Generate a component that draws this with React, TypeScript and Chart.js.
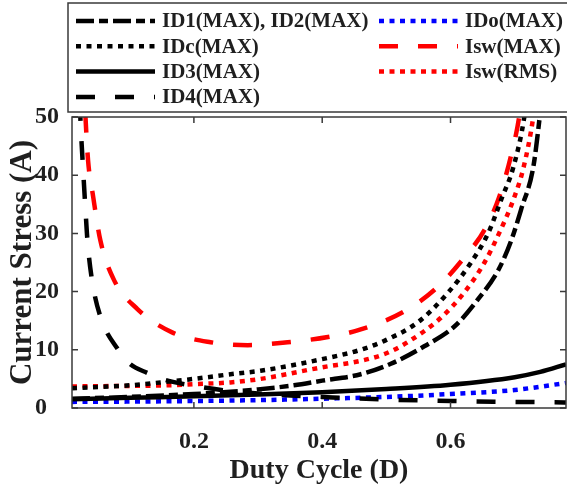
import React, { useEffect, useRef } from "react";
import { Chart, registerables } from "chart.js";

Chart.register(...registerables);

// ---- tick values ----
const xTicks = [0.2, 0.4, 0.6];
const yTicks = [0, 10, 20, 30, 40, 50];

// ---- series data (duty cycle D, current A) ----
const dID1 = [0.01, 0.1, 0.2, 0.257, 0.3, 0.356, 0.4, 0.46, 0.507, 0.559, 0.606, 0.643, 0.675, 0.695, 0.71, 0.729, 0.739, 0.75];
const vID1 = [1.6, 1.9, 2.4, 2.8, 3.2, 3.9, 4.7, 5.8, 7.6, 10.6, 14, 18.7, 23.8, 28.9, 34.1, 41.4, 50, 62];

const dIDc = [0.01, 0.1, 0.148, 0.2, 0.257, 0.304, 0.4, 0.46, 0.5, 0.55, 0.596, 0.632, 0.659, 0.679, 0.698, 0.715, 0.726];
const vIDc = [3.4, 3.9, 4.4, 5.0, 5.8, 6.4, 8.4, 10, 11.7, 14.8, 19.8, 25, 30.1, 35.8, 41.4, 50, 60];

const dID3 = [0.01, 0.1, 0.2, 0.3, 0.4, 0.5, 0.6, 0.7, 0.74, 0.78];
const vID3 = [1.5, 1.75, 2.0, 2.3, 2.7, 3.25, 4.0, 5.3, 6.2, 7.5];

const dID4 = [0.018, 0.023, 0.028, 0.031, 0.034, 0.041, 0.054, 0.082, 0.1, 0.128, 0.15, 0.2, 0.25, 0.3, 0.35, 0.4, 0.45, 0.5, 0.6, 0.7, 0.78];
const vID4 = [66, 50, 39.7, 34.1, 28.9, 22.1, 15.8, 10.0, 7.6, 6.0, 5.0, 3.8, 3.0, 2.5, 2.15, 1.9, 1.65, 1.45, 1.2, 1.05, 0.95];

const dIDo = [0.01, 0.1, 0.2, 0.3, 0.4, 0.5, 0.6, 0.7, 0.78];
const vIDo = [1.05, 1.1, 1.2, 1.35, 1.6, 1.9, 2.4, 3.1, 4.3];

const dSwMax = [0.025, 0.031, 0.035, 0.043, 0.054, 0.075, 0.112, 0.166, 0.226, 0.284, 0.346, 0.409, 0.46, 0.528, 0.581, 0.621, 0.653, 0.676, 0.694, 0.707, 0.716];
const vSwMax = [64, 50, 42.6, 36.3, 28.9, 22.1, 17, 13, 11.3, 10.8, 11.3, 12.2, 13.5, 16.6, 20.9, 25.8, 30.6, 36.3, 43.2, 50, 58];

const dSwRms = [0.01, 0.1, 0.16, 0.2, 0.257, 0.304, 0.4, 0.46, 0.5, 0.533, 0.585, 0.621, 0.653, 0.676, 0.698, 0.714, 0.729, 0.74];
const vSwRms = [3.7, 3.8, 3.9, 4.1, 4.4, 5.0, 7.0, 8.1, 9.4, 11.3, 15.5, 19.8, 25, 30.1, 35.8, 41.4, 50, 60];

const FONT = "'Liberation Serif', 'Times New Roman', serif";
const TEXT = "#1f1f1f";

type Series = {
  label: string;
  d: number[];
  v: number[];
  color: string;
  dash: number[];
  col: number;
  row: number;
};

const series: Series[] = [
  { label: "ID1(MAX), ID2(MAX)", d: dID1, v: vID1, color: "#000000", dash: [18, 5, 9, 5], col: 0, row: 0 },
  { label: "IDc(MAX)", d: dIDc, v: vIDc, color: "#000000", dash: [5, 5.5], col: 0, row: 1 },
  { label: "ID3(MAX)", d: dID3, v: vID3, color: "#000000", dash: [], col: 0, row: 2 },
  { label: "ID4(MAX)", d: dID4, v: vID4, color: "#000000", dash: [19, 20], col: 0, row: 3 },
  { label: "IDo(MAX)", d: dIDo, v: vIDo, color: "#0000ff", dash: [5, 5.5], col: 1, row: 0 },
  { label: "Isw(MAX)", d: dSwMax, v: vSwMax, color: "#ff0000", dash: [19, 20], col: 1, row: 1 },
  { label: "Isw(RMS)", d: dSwRms, v: vSwRms, color: "#ff0000", dash: [5, 5.5], col: 1, row: 2 },
];

const LINE_W = 4.5;

const framePlugin = {
  id: "matlabFrame",
  afterDatasetsDraw(chart: any) {
    const { ctx, chartArea: a, scales } = chart;
    const x = scales.x;
    const y = scales.y;
    ctx.save();
    ctx.strokeStyle = "#3a3a3a";
    ctx.lineWidth = 1.5;
    ctx.setLineDash([]);
    ctx.strokeRect(a.left, a.top, a.right - a.left, a.bottom - a.top);
    const tl = 6;
    ctx.beginPath();
    xTicks.forEach((v) => {
      const px = x.getPixelForValue(v);
      ctx.moveTo(px, a.bottom);
      ctx.lineTo(px, a.bottom - tl);
      ctx.moveTo(px, a.top);
      ctx.lineTo(px, a.top + tl);
    });
    yTicks.forEach((v) => {
      const py = y.getPixelForValue(v);
      ctx.moveTo(a.left, py);
      ctx.lineTo(a.left + tl, py);
      ctx.moveTo(a.right, py);
      ctx.lineTo(a.right - tl, py);
    });
    ctx.stroke();
    ctx.restore();
  },
  afterDraw(chart: any) {
    const { ctx } = chart;
    ctx.save();
    // legend box
    ctx.fillStyle = "#ffffff";
    ctx.fillRect(68, 3, 560, 109);
    ctx.strokeStyle = "#3a3a3a";
    ctx.lineWidth = 1.5;
    ctx.strokeRect(68, 3, 560, 109);
    const colX = [76, 379];
    const sampleLen = 79;
    const rowY = [21, 46.3, 71.6, 97];
    chart.data.datasets.forEach((ds: any, i: number) => {
      const s = series[i];
      const x0 = colX[s.col];
      const yy = rowY[s.row];
      ctx.beginPath();
      ctx.strokeStyle = ds.borderColor;
      ctx.lineWidth = LINE_W;
      ctx.lineCap = "butt";
      ctx.setLineDash(ds.borderDash || []);
      ctx.moveTo(x0, yy);
      ctx.lineTo(x0 + sampleLen, yy);
      ctx.stroke();
      ctx.setLineDash([]);
      ctx.fillStyle = TEXT;
      ctx.font = `bold 21px ${FONT}`;
      ctx.textAlign = "left";
      ctx.textBaseline = "middle";
      ctx.fillText(ds.label, x0 + sampleLen + 7, yy + 1);
    });
    ctx.restore();
  },
};

export default function App() {
  const ref = useRef<HTMLCanvasElement | null>(null);

  useEffect(() => {
    if (!ref.current) return;
    const chart = new Chart(ref.current, {
      type: "line",
      data: {
        datasets: series.map((s) => ({
          label: s.label,
          data: s.d.map((d, i) => ({ x: d, y: s.v[i] })),
          borderColor: s.color,
          backgroundColor: s.color,
          borderWidth: LINE_W,
          borderDash: s.dash,
          borderCapStyle: "butt",
          pointRadius: 0,
          fill: false,
          cubicInterpolationMode: "monotone",
          clip: 0,
        })),
      },
      options: {
        animation: false,
        responsive: false,
        devicePixelRatio: 1,
        layout: { padding: { left: 35, right: 1, top: 117, bottom: 0 } },
        plugins: { legend: { display: false }, tooltip: { enabled: false } },
        scales: {
          x: {
            type: "linear",
            min: 0.01,
            max: 0.78,
            afterBuildTicks: (s: any) => {
              s.ticks = xTicks.map((value) => ({ value }));
            },
            afterFit: (s: any) => {
              s.height = 84;
            },
            grid: { display: false, drawTicks: false },
            border: { display: false },
            ticks: {
              padding: 19,
              maxRotation: 0,
              autoSkip: false,
              color: TEXT,
              font: { family: FONT, size: 24, weight: "bold" },
              callback: (v: any) => Number(v).toFixed(1),
            },
            title: {
              display: true,
              text: "Duty Cycle (D)",
              color: TEXT,
              font: { family: FONT, size: 28, weight: "bold" },
              padding: { top: 0, bottom: 4 },
            },
          },
          y: {
            type: "linear",
            min: 0,
            max: 50,
            afterBuildTicks: (s: any) => {
              s.ticks = yTicks.map((value) => ({ value }));
            },
            afterFit: (s: any) => {
              s.width = 37;
            },
            grid: { display: false, drawTicks: false },
            border: { display: false },
            ticks: {
              crossAlign: "far",
              padding: 0,
              color: TEXT,
              font: { family: FONT, size: 24, weight: "bold" },
            },
            title: {
              display: true,
              text: "Current Stress (A)",
              color: TEXT,
              font: { family: FONT, size: 31, weight: "bold" },
              padding: { top: -30.5, bottom: 0 },
            },
          },
        },
      } as any,
      plugins: [framePlugin],
    });
    return () => chart.destroy();
  }, []);

  return (
    <div style={{ position: "absolute", left: 0, top: 0, width: 567, height: 492 }}>
      <canvas ref={ref} width={567} height={492} style={{ display: "block" }} />
    </div>
  );
}
